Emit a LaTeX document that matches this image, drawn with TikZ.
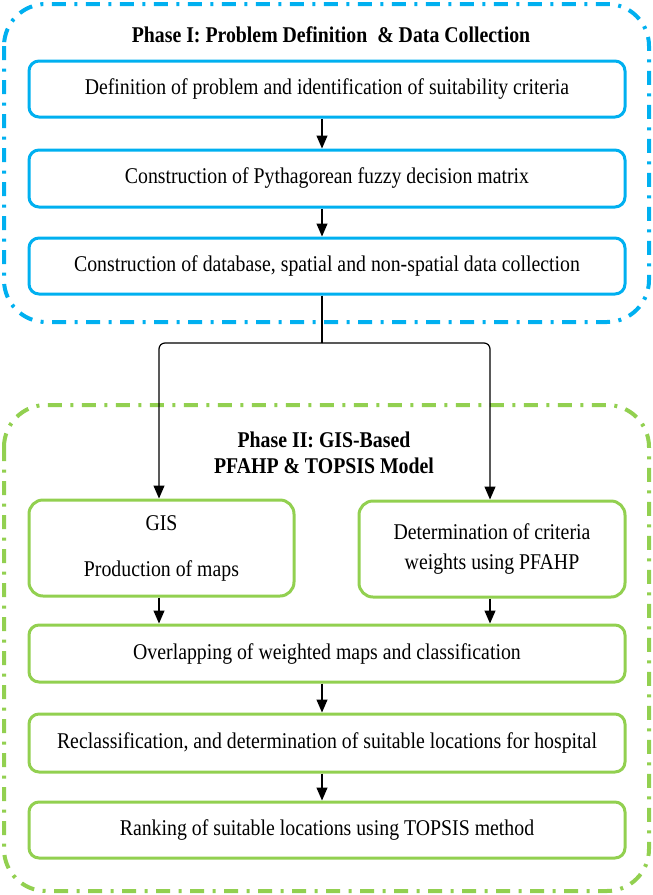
\documentclass[tikz,border=0pt]{standalone}
\usepackage{fontspec}
\setmainfont{Liberation Serif}[FakeStretch=0.88]
\usetikzlibrary{arrows.meta,calc}
\definecolor{pblue}{HTML}{00B0F0}
\definecolor{pgreen}{HTML}{92D050}
\begin{document}
\begin{tikzpicture}[x=1pt,y=-1pt,
  phasebox/.style={line width=4pt, dash pattern=on 14pt off 8.5pt on 3pt off 8.5pt, rounded corners=42pt},
  bluebox/.style={draw=pblue, line width=3pt, rounded corners=10pt, minimum width=596pt, minimum height=56pt, inner sep=0pt, align=center, font=\fontsize{22.5}{27}\selectfont},
  greenbox/.style={draw=pgreen, line width=3pt, rounded corners=10pt, minimum width=596pt, minimum height=57pt, inner sep=0pt, align=center, font=\fontsize{22.5}{27}\selectfont},
  halfbox/.style={greenbox, rounded corners=14pt, minimum width=265pt, minimum height=96pt},
  titletext/.style={font=\fontsize{22.5}{26}\selectfont\bfseries, align=center},
  arr/.style={line width=1.2pt, -{Triangle[length=13pt,width=11pt]}},
  conn/.style={line width=1.2pt}
]
\useasboundingbox (0,0) rectangle (653,895);
% phase frames
\draw[phasebox, draw=pblue] (4,4) rectangle (649,322);
\draw[phasebox, draw=pgreen] (4,405) rectangle (649,891);

\node[titletext] (t1) at (331,35) {Phase I: Problem Definition\ \ \& Data Collection};
\node[titletext] (t2) at (324,453) {Phase II: GIS-Based\\PFAHP \& TOPSIS Model};

\node[bluebox] (b1) at (327,89) {Definition of problem and identification of suitability criteria};
\node[bluebox, minimum height=57pt] (b2) at (327,178.5) {Construction of Pythagorean fuzzy decision matrix};
\node[bluebox] (b3) at (327,266) {Construction of database, spatial and non-spatial data collection};

\node[halfbox] (gis) at (161.5,548) {GIS\\[19pt]Production of maps};
\node[halfbox, minimum width=266pt, font=\fontsize{22.5}{30}\selectfont] (pf) at (492,549) {Determination of criteria\\weights using PFAHP};

\node[greenbox] (ov) at (327,653.5) {Overlapping of weighted maps and classification};
\node[greenbox, minimum height=58pt] (rc) at (327,743) {Reclassification, and determination of suitable locations for hospital};
\node[greenbox, minimum height=56pt] (rk) at (327,830) {Ranking of suitable locations using TOPSIS method};

\coordinate (cx) at (322,0);
\coordinate (lx) at (159,0);
\coordinate (rx) at (490,0);
\coordinate (split) at (322,343);

\draw[arr] (b1.south -| cx) -- (b2.north -| cx);
\draw[arr] (b2.south -| cx) -- (b3.north -| cx);
\draw[conn] (b3.south -| cx) -- (split);
\draw[arr, rounded corners=6pt] (split) -| (gis.north -| lx);
\draw[arr, rounded corners=6pt] (split) -| (pf.north -| rx);
\draw[arr] (gis.south -| lx) -- (ov.north -| lx);
\draw[arr] (pf.south -| rx) -- (ov.north -| rx);
\draw[arr] (ov.south -| cx) -- (rc.north -| cx);
\draw[arr] (rc.south -| cx) -- (rk.north -| cx);
\end{tikzpicture}
\end{document}
